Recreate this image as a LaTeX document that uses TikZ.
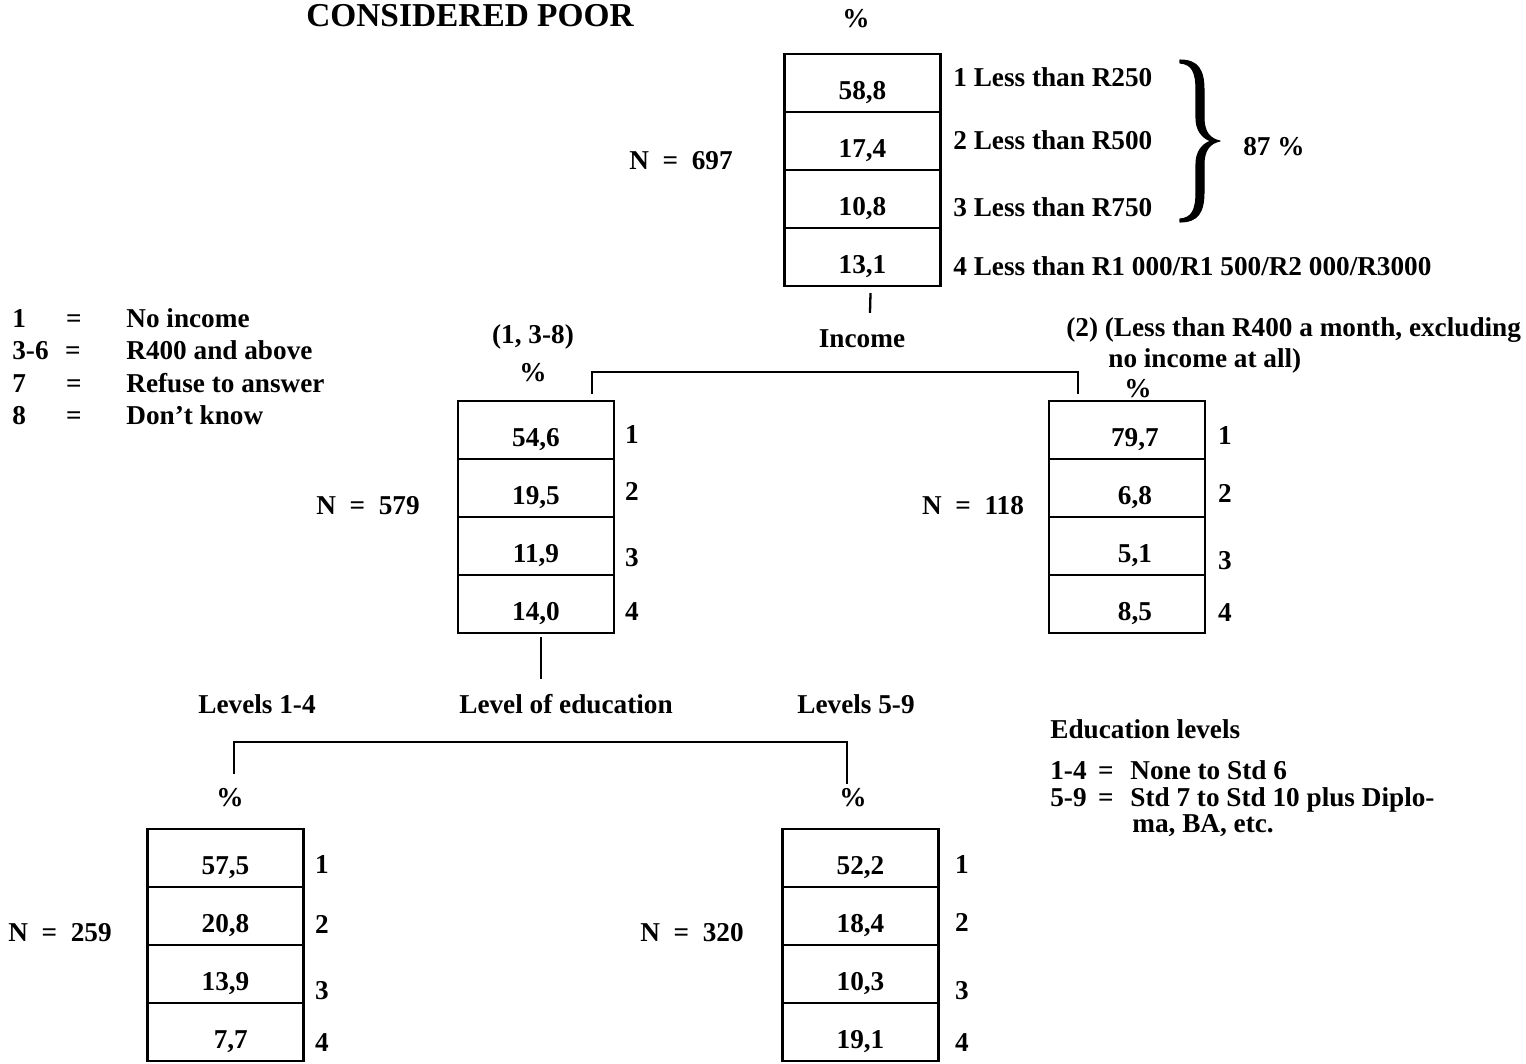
\documentclass[tikz,border=0pt]{standalone}
\usepackage{fontspec}
\setmainfont{Liberation Serif}
\usetikzlibrary{calc}
\begin{document}
\begin{tikzpicture}[x=0.02cm,y=-0.02cm,
  every node/.style={font=\fontsize{15.5}{18}\selectfont\bfseries, inner sep=0pt},
  cell/.style={draw, line width=1.3pt, minimum width=3.12cm, minimum height=1.16cm, text height=18.6pt, text depth=0pt},
  rcell/.style={cell, execute at begin node={\hspace{9pt}}},
  txt/.style={anchor=base},
  ltxt/.style={anchor=base west},
  conn/.style={line width=1.3pt},
  bracefill/.style={fill=black, draw=black, line width=0.6pt, line join=round},
  titlefont/.style={font=\fontsize{19}{22}\selectfont\bfseries}
]
\useasboundingbox (0,0) rectangle (1526,1063);

% title
\node[txt,titlefont] (title) at (470,26) {CONSIDERED POOR};
\node[txt] (pct0) at (856,27) {\%};

% top box
\node[cell] (t1) at (862.5,83) {58,8};
\node[cell] (t2) at (862.5,141) {17,4};
\node[cell] (t3) at (862.5,199) {10,8};
\node[cell] (t4) at (862.5,257) {13,1};
\node[ltxt] (tl1) at (953,86) {1 Less than R250};
\node[ltxt] (tl2) at (953,149) {2 Less than R500};
\node[ltxt] (tl3) at (953,216) {3 Less than R750};
\node[ltxt] (tl4) at (953,275) {4 Less than R1 000/R1 500/R2 000/R3000};
% brace
\path[bracefill] (1180,60) .. controls (1198,60) and (1204,70) .. (1204,90) -- (1204,118)
  .. controls (1204,132) and (1210,139) .. (1220,141)
  .. controls (1210,143) and (1204,150) .. (1204,164) -- (1204,192)
  .. controls (1204,212) and (1198,222) .. (1180,222)
  -- (1180,219) .. controls (1192,218) and (1196,210) .. (1196,192) -- (1196,164)
  .. controls (1196,152) and (1202,144) .. (1211,141)
  .. controls (1202,138) and (1196,130) .. (1196,118) -- (1196,90)
  .. controls (1196,72) and (1192,64) .. (1180,63) -- cycle;
\node[txt] (tot) at (1274,155) {87 \%};
\node[txt] (n0) at (681,169) {N\enspace=\enspace697};

\node[txt] (inc) at (862,347) {Income};
\draw[conn] ($(t4.south)+(8,6)$) -- ($(inc.north)+(8,-16)$);

% legend left
\node[ltxt] (lg1a) at (12,327) {1};
\node[txt] (lg1b) at (74,327) {=};
\node[ltxt] (lg1c) at (126,327) {No income};
\node[ltxt] (lg2a) at (12,359) {3-6};
\node[txt] (lg2b) at (73,359) {=};
\node[ltxt] (lg2c) at (126,359) {R400 and above};
\node[ltxt] (lg3a) at (12,392) {7};
\node[txt] (lg3b) at (74,392) {=};
\node[ltxt] (lg3c) at (126,392) {Refuse to answer};
\node[ltxt] (lg4a) at (12,424) {8};
\node[txt] (lg4b) at (74,424) {=};
\node[ltxt] (lg4c) at (126,424) {Don't know};

% middle left
\node[txt] (mhead) at (533,343) {(1, 3-8)};
\node[txt] (mpct) at (533,381) {\%};
\node[cell] (m1) at (536,430) {54,6};
\node[cell] (m2) at (536,488) {19,5};
\node[cell] (m3) at (536,546) {11,9};
\node[cell] (m4) at (536,604) {14,0};
\node[txt] (ml1) at (632,443) {1};
\node[txt] (ml2) at (632,500) {2};
\node[txt] (ml3) at (632,566) {3};
\node[txt] (ml4) at (632,620) {4};
\node[txt] (nm) at (368,514) {N\enspace=\enspace579};

% middle right
\node[ltxt] (rhead1) at (1066,336) {(2) (Less than R400 a month, excluding};
\node[ltxt] (rhead2) at (1108,367) {no income at all)};
\node[txt] (rpct) at (1138,397) {\%};
\node[rcell] (r1) at (1127,430) {79,7};
\node[rcell] (r2) at (1127,488) {6,8};
\node[rcell] (r3) at (1127,546) {5,1};
\node[rcell] (r4) at (1127,604) {8,5};
\node[txt] (rl1) at (1225,444) {1};
\node[txt] (rl2) at (1225,502) {2};
\node[txt] (rl3) at (1225,569) {3};
\node[txt] (rl4) at (1225,621) {4};
\node[txt] (nr) at (973,514) {N\enspace=\enspace118};

\draw[conn] ($(m1.north)+(56,-6)$) |- ($(r1.north)+(-49,-28)$) -- ($(r1.north)+(-49,-6)$);

% education split
\node[txt] (lev14) at (257,713) {Levels 1-4};
\node[txt] (edu) at (566,713) {Level of education};
\node[txt] (lev59) at (856,713) {Levels 5-9};
\draw[conn] ($(m4.south)+(5,3)$) -- ++(0,42);

\node[txt] (bpct) at (230,806) {\%};
\node[txt] (cpct) at (853,806) {\%};

% bottom left
\node[cell] (b1) at (225.5,858) {57,5};
\node[cell] (b2) at (225.5,916) {20,8};
\node[cell] (b3) at (225.5,974) {13,9};
\node[cell] (b4) at (225.5,1032) {\hspace{6pt}7,7};
\node[txt] (bl1) at (322,873) {1};
\node[txt] (bl2) at (322,933) {2};
\node[txt] (bl3) at (322,999) {3};
\node[txt] (bl4) at (322,1051) {4};
\node[txt] (nb) at (60,941) {N\enspace=\enspace259};

% bottom right
\node[cell] (c1) at (860.5,858) {52,2};
\node[cell] (c2) at (860.5,916) {18,4};
\node[cell] (c3) at (860.5,974) {10,3};
\node[cell] (c4) at (860.5,1032) {19,1};
\node[txt] (cl1) at (962,873) {1};
\node[txt] (cl2) at (962,931) {2};
\node[txt] (cl3) at (962,999) {3};
\node[txt] (cl4) at (962,1051) {4};
\node[txt] (nc) at (692,941) {N\enspace=\enspace320};

\draw[conn] ($(b1.north)+(8.5,-54)$) |- ($(c1.north)+(-13.5,-86)$) -- ($(c1.north)+(-13.5,-44)$);

% education legend
\node[ltxt] (el0) at (1050,738) {Education levels};
\node[ltxt] (el1a) at (1050,779) {1-4};
\node[txt] (el1b) at (1106,779) {=};
\node[ltxt] (el1c) at (1130,779) {None to Std 6};
\node[ltxt] (el2a) at (1050,806) {5-9};
\node[txt] (el2b) at (1106,806) {=};
\node[ltxt] (el2c) at (1130,806) {Std 7 to Std 10 plus Diplo-};
\node[ltxt] (el3c) at (1132,832) {ma, BA, etc.};
\end{tikzpicture}
\end{document}
